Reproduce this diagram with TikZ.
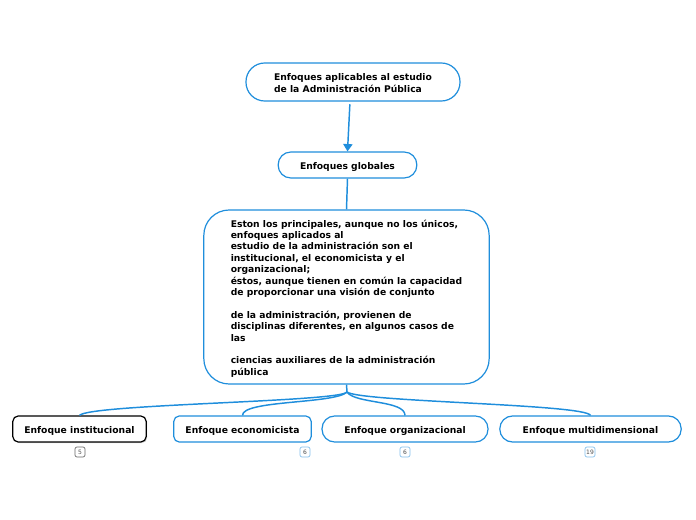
\documentclass[tikz,border=0pt]{standalone}
\usepackage{fontspec}
\setmainfont{DejaVu Sans}
\usepackage{xcolor}
\usetikzlibrary{arrows.meta,shadows}
\definecolor{mapblue}{RGB}{31,142,220}
\definecolor{badgeblue}{RGB}{130,190,235}
\tikzset{
  topic/.style={draw=mapblue,line width=0.9pt,rounded corners=9.5pt,fill=white,
    font=\fontsize{6.9}{9}\selectfont\bfseries,align=center,inner sep=0pt},
  oneline/.style={text height=7pt,text depth=0.2pt},
  branch/.style={draw=mapblue,line width=1.1pt},
  badge/.style={draw=badgeblue,line width=0.5pt,rounded corners=1.5pt,inner sep=0.8pt,
    minimum height=7.5pt,minimum width=7.5pt,font=\fontsize{4.5}{5}\selectfont,text=black!70}
}

\begin{document}
\begin{tikzpicture}[x=0.75pt,y=-0.75pt]
    \useasboundingbox (0,0) rectangle (696,520);
    % Main topic
    \node[topic,rounded corners=14pt,minimum width=160.5pt,minimum height=28.5pt] (enfoques) at (353,82)
      {\raisebox{-1.5pt}[\height][\depth]{\begin{tabular}{@{}l@{}}Enfoques aplicables al estudio\\de la Administración Pública\end{tabular}}};
    % Global approaches
    \node[topic,oneline,minimum width=104pt,minimum height=19.5pt] (globales) at (347.5,165) {Enfoques globales};
    % Description
    \node[topic,rounded corners=19pt,minimum width=214pt,minimum height=130.5pt,
      font=\fontsize{6.9}{8.55}\selectfont\bfseries] (detalle) at (346.5,297)
      {\raisebox{-1.5pt}[\height][\depth]{\begin{tabular}{@{}l@{}}
       Eston los principales, aunque no los únicos,\\
       enfoques aplicados al\\
       estudio de la administración son el\\
       institucional, el economicista y el\\
       organizacional;\\
       éstos, aunque tienen en común la capacidad\\
       de proporcionar una visión de conjunto\\[8.55pt]
       de la administración, provienen de\\
       disciplinas diferentes, en algunos casos de\\
       las\\[8.55pt]
       ciencias auxiliares de la administración\\
       pública
       \end{tabular}}};
    % Sub topics
    \node[topic,oneline,draw=black,minimum width=100pt,minimum height=19.5pt,rounded corners=4pt,
      drop shadow={opacity=0.35,shadow xshift=0.8pt,shadow yshift=-0.8pt}] (institucional) at (79.5,429) {Enfoque institucional};
    \node[topic,oneline,minimum width=103pt,minimum height=19.5pt,rounded corners=4pt] (economicista) at (242.5,429) {Enfoque economicista};
    \node[topic,oneline,minimum width=124.5pt,minimum height=19.5pt] (organizacional) at (405,429) {Enfoque organizacional};
    \node[topic,oneline,minimum width=136pt,minimum height=19.5pt] (multi) at (590.5,429) {Enfoque multidimensional};
    % Counters
    \node[badge,draw=black!60] (nInst) at (80,452) {5};
    \node[badge] (nEcon) at (305,452) {6};
    \node[badge] (nOrg) at (405,452) {6};
    \node[badge] (nMulti) at (590,452) {19};
    % Connectors
    \draw[mapblue,line width=1.1pt,-{Triangle[length=5.5pt,width=7pt]},shorten <=2pt] (enfoques.south) ++(-3,0) -- (globales.north);
    \draw[branch] (globales.south) -- (detalle.north);
    \coordinate (raiz) at (347,392);
    \draw[branch] (detalle.south) -- (raiz);
    \draw[branch] (raiz) .. controls (340,402) and (90,404) .. (institucional.north);
    \draw[branch] (raiz) .. controls (335,404) and (242,400) .. (economicista.north);
    \draw[branch] (raiz) .. controls (355,404) and (405,400) .. (organizacional.north);
    \draw[branch] (raiz) .. controls (360,402) and (585,404) .. (multi.north);
\end{tikzpicture}
\end{document}
